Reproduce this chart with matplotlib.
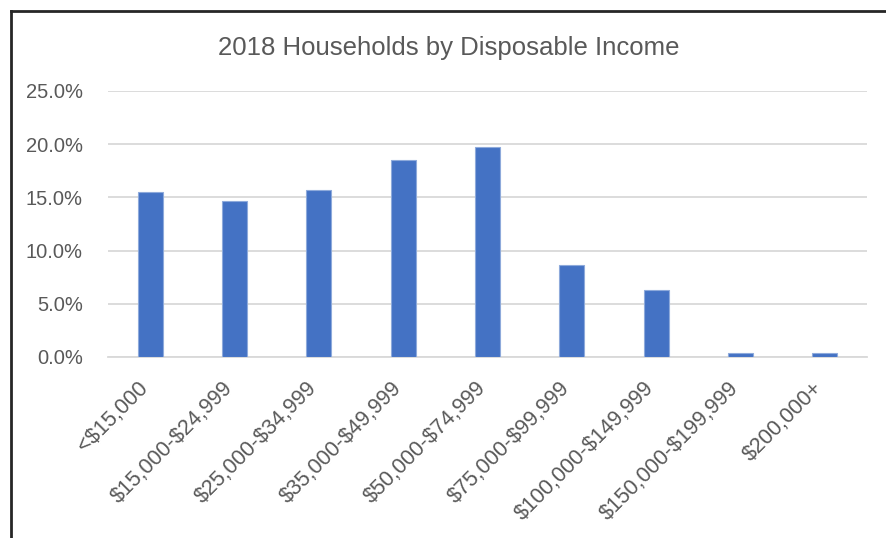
import matplotlib
matplotlib.use("Agg")
from matplotlib import pyplot as plt
from matplotlib.lines import Line2D
from matplotlib.ticker import FuncFormatter
from matplotlib.transforms import ScaledTranslation

# income brackets and share of households (%)
categories = ['<$15,000', '$15,000-$24,999', '$25,000-$34,999', '$35,000-$49,999',
              '$50,000-$74,999', '$75,000-$99,999', '$100,000-$149,999',
              '$150,000-$199,999', '$200,000+']
shares = [15.5, 14.7, 15.7, 18.5, 19.7, 8.6, 6.3, 0.4, 0.4]
y_ticks = [0, 5, 10, 15, 20, 25]

plt.rcParams['font.family'] = ['Liberation Sans', 'DejaVu Sans']
plt.rcParams['text.parse_math'] = False
text_col = '#595959'

W, H = 887, 538
fig = plt.figure(figsize=(W / 100, H / 100), dpi=100)
ax = fig.add_axes([108 / W, 1 - 357 / H, (867 - 108) / W, (357 - 91) / H])

x = range(len(categories))
ax.bar(x, shares, width=0.3, color='#4472C4', edgecolor='#8eaadb', linewidth=0.8, zorder=3)

ax.set_xlim(-0.5, len(categories) - 0.5)
ax.set_ylim(0, 25)
ax.set_yticks(y_ticks)
ax.yaxis.set_major_formatter(FuncFormatter(lambda v, p: f'{v:.1f}%'))
ax.yaxis.grid(True, color='#d9d9d9', linewidth=1.3, zorder=0)
ax.set_xticks(list(x))
ax.set_xticklabels(categories, rotation=45, ha='right', va='center', rotation_mode='anchor')
for s in ax.spines.values():
    s.set_visible(False)
ax.spines['bottom'].set_visible(True)
ax.spines['bottom'].set_color('#d9d9d9')
ax.spines['bottom'].set_linewidth(1.3)
ax.tick_params(axis='y', length=0, colors=text_col, labelsize=14.5, pad=18)
ax.tick_params(axis='x', length=0, colors=text_col, labelsize=15.5, pad=19)
shift = ScaledTranslation(-5 / 100, -2 / 100, fig.dpi_scale_trans)
for lbl in ax.get_xticklabels():
    lbl.set_transform(lbl.get_transform() + shift)

fig.text(449 / W, 1 - 48 / H, '2018 Households by Disposable Income', ha='center', va='center',
         fontsize=18.5, color=text_col)

# box edges (left and top) of the chart frame
fig.add_artist(Line2D([11 / W, 11 / W], [0, 1 - 11 / H], transform=fig.transFigure,
                      color='#262626', linewidth=2))
fig.add_artist(Line2D([11 / W, 1], [1 - 11 / H, 1 - 11 / H], transform=fig.transFigure,
                      color='#262626', linewidth=2))

fig.savefig('out.png', dpi=100)
